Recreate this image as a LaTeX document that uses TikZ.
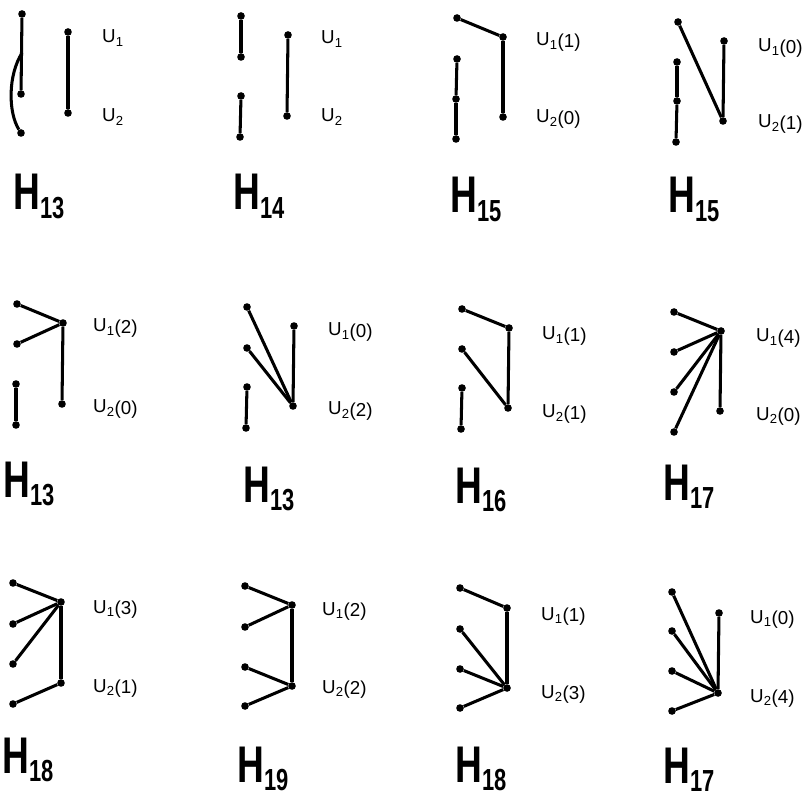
\documentclass[tikz,border=0pt]{standalone}
\usepackage{fontspec}
\setmainfont{Liberation Sans}

\newcommand{\ulab}[2]{{\fontsize{16}{18}\selectfont U\textsubscript{#1}\raisebox{-1.5pt}{#2}}}
\newcommand{\hlab}[1]{\scalebox{0.72}[1]{{\fontsize{44}{48}\selectfont\bfseries H}\raisebox{-7pt}{\fontsize{26}{28}\selectfont\bfseries #1}}}

\begin{document}
\begin{tikzpicture}[x=0.03cm, y=-0.03cm]
	\useasboundingbox (0,0) rectangle (807,796);
	\tikzset{vtx/.style = {circle, fill=black, inner sep=0pt, minimum size=6.5pt},
		lbl/.style = {anchor=base west, inner sep=0pt},
		hl/.style = {anchor=base west, inner sep=0pt},
		every edge/.style = {draw=black, line width=2.6pt}}
	% row 1
	\node[vtx] (a1) at (22,14) {};
	\node[vtx] (a2) at (21,94) {};
	\node[vtx] (a3) at (21,133) {};
	\coordinate (a4) at (22,53);
	\node[vtx] (a5) at (68,32) {};
	\node[vtx] (a6) at (68,113) {};
	\path (a1) edge (a2) (a5) edge (a6);
	\draw[line width=2.6pt] (a4) .. controls (8,75) and (8,112) .. (a3);
	\node[lbl] (a-u1) at (102,43) {\ulab{1}{}};
	\node[lbl] (a-u2) at (102,122) {\ulab{2}{}};
	\node[hl] (a-h) at (13,210) {\hlab{13}};

	\node[vtx] (b1) at (241,16) {};
	\node[vtx] (b2) at (241,57) {};
	\node[vtx] (b3) at (241,96) {};
	\node[vtx] (b4) at (240,137) {};
	\node[vtx] (b5) at (288,35) {};
	\node[vtx] (b6) at (287,116) {};
	\path (b1) edge (b2) (b3) edge (b4) (b5) edge (b6);
	\node[lbl] (b-u1) at (321,44) {\ulab{1}{}};
	\node[lbl] (b-u2) at (321,122) {\ulab{2}{}};
	\node[hl] (b-h) at (233,210) {\hlab{14}};

	\node[vtx] (c1) at (457,18) {};
	\node[vtx] (c2) at (503,37) {};
	\node[vtx] (c3) at (503,117) {};
	\node[vtx] (c4) at (457,59) {};
	\node[vtx] (c5) at (456,99) {};
	\node[vtx] (c6) at (456,139) {};
	\path (c1) edge (c2) (c2) edge (c3) (c4) edge (c5) (c5) edge (c6);
	\node[lbl] (c-u1) at (536,46) {\ulab{1}{(1)}};
	\node[lbl] (c-u2) at (536,123) {\ulab{2}{(0)}};
	\node[hl] (c-h) at (450,213) {\hlab{15}};

	\node[vtx] (d1) at (678,22) {};
	\node[vtx] (d2) at (724,41) {};
	\node[vtx] (d3) at (723,121) {};
	\node[vtx] (d4) at (677,62) {};
	\node[vtx] (d5) at (677,101) {};
	\node[vtx] (d6) at (676,142) {};
	\path (d1) edge (d3) (d2) edge (d3) (d4) edge (d5) (d5) edge (d6);
	\node[lbl] (d-u1) at (758,52) {\ulab{1}{(0)}};
	\node[lbl] (d-u2) at (758,128) {\ulab{2}{(1)}};
	\node[hl] (d-h) at (668,213) {\hlab{15}};

	% row 2
	\node[vtx] (e1) at (63,323) {};
	\node[vtx] (e2) at (62,404) {};
	\node[vtx] (e3) at (17,304) {};
	\node[vtx] (e4) at (17,344) {};
	\node[vtx] (e5) at (16,384) {};
	\node[vtx] (e6) at (16,425) {};
	\path (e3) edge (e1) (e4) edge (e1) (e1) edge (e2) (e5) edge (e6);
	\node[lbl] (e-u1) at (93,332) {\ulab{1}{(2)}};
	\node[lbl] (e-u2) at (93,413) {\ulab{2}{(0)}};
	\node[hl] (e-h) at (3,497) {\hlab{13}};

	\node[vtx] (f1) at (294,326) {};
	\node[vtx] (f2) at (293,406) {};
	\node[vtx] (f3) at (247,307) {};
	\node[vtx] (f4) at (247,348) {};
	\node[vtx] (f5) at (247,387) {};
	\node[vtx] (f6) at (246,428) {};
	\path (f3) edge (f2) (f4) edge (f2) (f1) edge (f2) (f5) edge (f6);
	\node[lbl] (f-u1) at (328,336) {\ulab{1}{(0)}};
	\node[lbl] (f-u2) at (328,415) {\ulab{2}{(2)}};
	\node[hl] (f-h) at (243,502) {\hlab{13}};

	\node[vtx] (g1) at (509,328) {};
	\node[vtx] (g2) at (508,408) {};
	\node[vtx] (g3) at (462,309) {};
	\node[vtx] (g4) at (462,349) {};
	\node[vtx] (g5) at (462,388) {};
	\node[vtx] (g6) at (461,429) {};
	\path (g3) edge (g1) (g1) edge (g2) (g4) edge (g2) (g5) edge (g6);
	\node[lbl] (g-u1) at (542,340) {\ulab{1}{(1)}};
	\node[lbl] (g-u2) at (542,418) {\ulab{2}{(1)}};
	\node[hl] (g-h) at (455,503) {\hlab{16}};

	\node[vtx] (h1) at (721,331) {};
	\node[vtx] (h2) at (720,411) {};
	\node[vtx] (h3) at (674,312) {};
	\node[vtx] (h4) at (674,352) {};
	\node[vtx] (h5) at (674,392) {};
	\node[vtx] (h6) at (674,432) {};
	\path (h3) edge (h1) (h4) edge (h1) (h5) edge (h1) (h6) edge (h1) (h1) edge (h2);
	\node[lbl] (h-u1) at (756,342) {\ulab{1}{(4)}};
	\node[lbl] (h-u2) at (756,420) {\ulab{2}{(0)}};
	\node[hl] (h-h) at (663,500) {\hlab{17}};

	% row 3
	\node[vtx] (i1) at (61,602) {};
	\node[vtx] (i2) at (61,683) {};
	\node[vtx] (i3) at (13,583) {};
	\node[vtx] (i4) at (13,624) {};
	\node[vtx] (i5) at (13,664) {};
	\node[vtx] (i6) at (13,704) {};
	\path (i3) edge (i1) (i4) edge (i1) (i5) edge (i1) (i1) edge (i2) (i6) edge (i2);
	\node[lbl] (i-u1) at (93,613) {\ulab{1}{(3)}};
	\node[lbl] (i-u2) at (93,692) {\ulab{2}{(1)}};
	\node[hl] (i-h) at (2,773) {\hlab{18}};

	\node[vtx] (j1) at (292,605) {};
	\node[vtx] (j2) at (292,686) {};
	\node[vtx] (j3) at (245,586) {};
	\node[vtx] (j4) at (245,627) {};
	\node[vtx] (j5) at (245,667) {};
	\node[vtx] (j6) at (245,706) {};
	\path (j3) edge (j1) (j4) edge (j1) (j1) edge (j2) (j5) edge (j2) (j6) edge (j2);
	\node[lbl] (j-u1) at (322,615) {\ulab{1}{(2)}};
	\node[lbl] (j-u2) at (322,693) {\ulab{2}{(2)}};
	\node[hl] (j-h) at (237,782) {\hlab{19}};

	\node[vtx] (k1) at (507,608) {};
	\node[vtx] (k2) at (507,688) {};
	\node[vtx] (k3) at (460,588) {};
	\node[vtx] (k4) at (460,629) {};
	\node[vtx] (k5) at (460,669) {};
	\node[vtx] (k6) at (460,708) {};
	\path (k3) edge (k1) (k1) edge (k2) (k4) edge (k2) (k5) edge (k2) (k6) edge (k2);
	\node[lbl] (k-u1) at (541,620) {\ulab{1}{(1)}};
	\node[lbl] (k-u2) at (541,698) {\ulab{2}{(3)}};
	\node[hl] (k-h) at (455,782) {\hlab{18}};

	\node[vtx] (l1) at (719,613) {};
	\node[vtx] (l2) at (718,693) {};
	\node[vtx] (l3) at (672,592) {};
	\node[vtx] (l4) at (672,631) {};
	\node[vtx] (l5) at (672,671) {};
	\node[vtx] (l6) at (672,711) {};
	\path (l3) edge (l2) (l4) edge (l2) (l5) edge (l2) (l6) edge (l2) (l1) edge (l2);
	\node[lbl] (l-u1) at (750,623) {\ulab{1}{(0)}};
	\node[lbl] (l-u2) at (750,702) {\ulab{2}{(4)}};
	\node[hl] (l-h) at (663,783) {\hlab{17}};
\end{tikzpicture}
\end{document}
